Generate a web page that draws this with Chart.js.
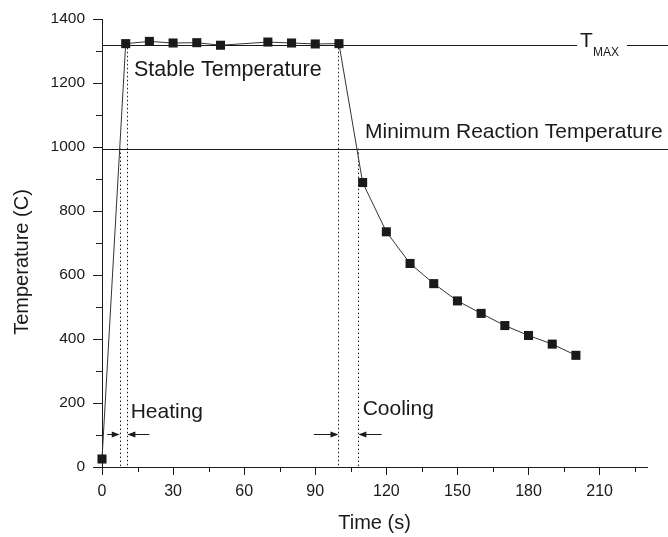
<!DOCTYPE html>
<html>
<head>
<meta charset="utf-8">
<script src="https://cdn.jsdelivr.net/npm/chart.js@4.4.0/dist/chart.umd.min.js"></script>
<style>
  html, body { margin: 0; padding: 0; background: #fff; }
  #wrap { width: 668px; height: 537px; }
</style>
</head>
<body>
<div id="wrap"><canvas id="grafico"></canvas></div>
<script>
// medidas: tempo (s) e temperatura (C)
var tempos = [0, 10, 20, 30, 40, 50, 70, 80, 90, 100, 110, 120, 130, 140, 150, 160, 170, 180, 190, 200];
var temperaturas = [25, 1323, 1330, 1325, 1326, 1318, 1328, 1325, 1322, 1323, 889, 735, 636, 573, 519, 480, 442, 411, 384, 349];

var tMax = 1320;          // linha T_MAX
var tMinReacao = 995;     // linha da temperatura minima de reacao
var limitesAquecimento = [7.5, 10.7];
var limitesResfriamento = [99.8, 108.2];

var ticksX = [0, 30, 60, 90, 120, 150, 180, 210];
var ticksY = [0, 200, 400, 600, 800, 1000, 1200, 1400];

var cor = '#1a1a1a';
var fonte = '"Liberation Sans", Arial, sans-serif';

var pontos = [];
for (var i = 0; i < tempos.length; i++) {
    pontos.push({ x: tempos[i], y: temperaturas[i] });
}

function seta(ctx, x1, x2, y) {
    var dir = x2 > x1 ? 1 : -1;
    ctx.beginPath();
    ctx.moveTo(x1, y);
    ctx.lineTo(x2 - dir * 5, y);
    ctx.stroke();
    ctx.beginPath();
    ctx.moveTo(x2, y);
    ctx.lineTo(x2 - dir * 8, y - 3);
    ctx.lineTo(x2 - dir * 8, y + 3);
    ctx.closePath();
    ctx.fill();
}

var anotacoes = {
    id: 'anotacoes',
    beforeDatasetsDraw: function (chart) {
        var ctx = chart.ctx;
        var sx = chart.scales.x, sy = chart.scales.y;
        var area = chart.chartArea;
        ctx.save();
        ctx.strokeStyle = cor;
        ctx.fillStyle = cor;
        ctx.lineWidth = 1;

        // ticks menores
        for (var v = 15; v < 230; v += 30) {
            var px = Math.round(sx.getPixelForValue(v)) + 0.5;
            ctx.beginPath();
            ctx.moveTo(px, area.bottom);
            ctx.lineTo(px, area.bottom + 5);
            ctx.stroke();
        }
        for (var w = 100; w < 1400; w += 200) {
            var py = Math.round(sy.getPixelForValue(w)) + 0.5;
            ctx.beginPath();
            ctx.moveTo(area.left, py);
            ctx.lineTo(area.left - 6, py);
            ctx.stroke();
        }

        // linhas horizontais de referencia
        var yMax = Math.round(sy.getPixelForValue(tMax)) + 0.5;
        var yMin = Math.round(sy.getPixelForValue(tMinReacao)) + 0.5;
        ctx.beginPath();
        ctx.moveTo(area.left, yMax);
        ctx.lineTo(577, yMax);
        ctx.moveTo(627, yMax);
        ctx.lineTo(chart.width, yMax);
        ctx.moveTo(area.left, yMin);
        ctx.lineTo(chart.width, yMin);
        ctx.stroke();

        // linhas pontilhadas verticais
        ctx.setLineDash([1.5, 2.5]);
        var verticais = [
            [limitesAquecimento[0], tMinReacao],
            [limitesAquecimento[1], 1310],
            [limitesResfriamento[0], 1310],
            [limitesResfriamento[1], tMinReacao]
        ];
        verticais.forEach(function (l) {
            var x = Math.round(sx.getPixelForValue(l[0])) + 0.5;
            ctx.beginPath();
            ctx.moveTo(x, sy.getPixelForValue(l[1]));
            ctx.lineTo(x, area.bottom);
            ctx.stroke();
        });
        ctx.setLineDash([]);

        // setas
        var ySeta = Math.round(sy.getPixelForValue(102)) + 0.5;
        seta(ctx, sx.getPixelForValue(2.2), sx.getPixelForValue(limitesAquecimento[0]), ySeta);
        seta(ctx, sx.getPixelForValue(20), sx.getPixelForValue(limitesAquecimento[1]), ySeta);
        seta(ctx, sx.getPixelForValue(89.4), sx.getPixelForValue(limitesResfriamento[0]), ySeta);
        seta(ctx, sx.getPixelForValue(118), sx.getPixelForValue(limitesResfriamento[1]), ySeta);

        // textos
        ctx.textBaseline = 'middle';
        ctx.textAlign = 'left';
        ctx.font = '21.5px ' + fonte;
        ctx.fillText('Stable Temperature', sx.getPixelForValue(13.5), sy.getPixelForValue(1240));
        ctx.font = '21px ' + fonte;
        ctx.fillText('Minimum Reaction Temperature', sx.getPixelForValue(111), sy.getPixelForValue(1045));
        ctx.fillText('Heating', sx.getPixelForValue(12.1), sy.getPixelForValue(172));
        ctx.fillText('Cooling', sx.getPixelForValue(110), sy.getPixelForValue(181));
        ctx.fillText('T', 580, 41);
        ctx.font = '12px ' + fonte;
        ctx.fillText('MAX', 593, 53);

        // titulos dos eixos
        ctx.font = '20px ' + fonte;
        ctx.textAlign = 'center';
        ctx.fillText('Time (s)', (area.left + area.right) / 2, 523);
        ctx.save();
        ctx.translate(22, 262);
        ctx.rotate(-Math.PI / 2);
        ctx.fillText('Temperature (C)', 0, 0);
        ctx.restore();

        ctx.restore();
    }
};

function semSeparador(valor) {
    return String(valor);
}

var ctx = document.getElementById('grafico').getContext('2d');
var grafico = new Chart(ctx, {
    type: 'scatter',
    data: {
        datasets: [{
            data: pontos,
            showLine: true,
            borderColor: '#333',
            borderWidth: 1,
            pointStyle: 'rect',
            pointRadius: 6.4,
            pointBackgroundColor: cor,
            pointBorderWidth: 0,
            clip: false
        }]
    },
    options: {
        responsive: true,
        maintainAspectRatio: false,
        animation: false,
        layout: { padding: { top: 19, right: 21, left: 0, bottom: 0 } },
        plugins: { legend: { display: false }, tooltip: { enabled: false } },
        scales: {
            x: {
                type: 'linear',
                min: 0,
                max: 230,
                afterFit: function (scale) { scale.height = 70; },
                afterBuildTicks: function (scale) {
                    scale.ticks = ticksX.map(function (v) { return { value: v }; });
                },
                border: { display: true, color: cor, width: 1 },
                grid: { drawOnChartArea: false, tickLength: 8, tickColor: cor },
                ticks: { color: cor, font: { family: fonte, size: 16 }, padding: 7, maxRotation: 0, callback: semSeparador }
            },
            y: {
                min: 0,
                max: 1400,
                afterFit: function (scale) { scale.width = 102; },
                afterBuildTicks: function (scale) {
                    scale.ticks = ticksY.map(function (v) { return { value: v }; });
                },
                border: { display: true, color: cor, width: 1 },
                grid: { drawOnChartArea: false, tickLength: 9, tickColor: cor },
                ticks: { color: cor, font: { family: fonte, size: 15.5 }, padding: 8, callback: semSeparador }
            }
        }
    },
    plugins: [anotacoes]
});
</script>
</body>
</html>
